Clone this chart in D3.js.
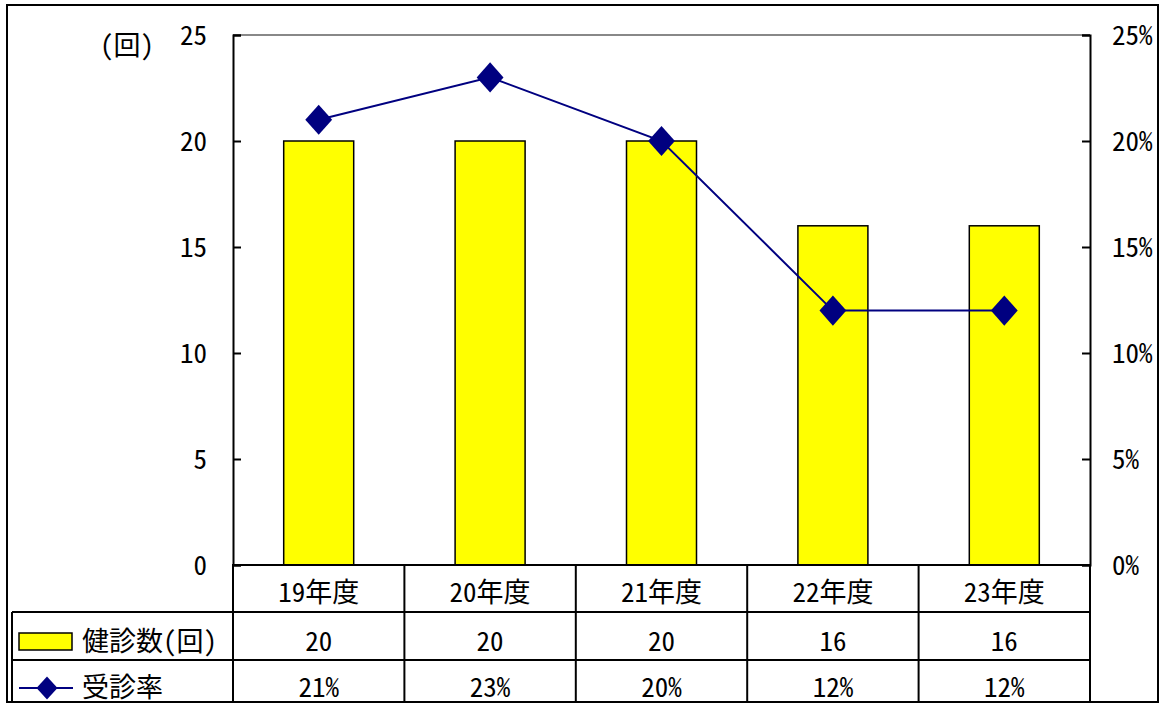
<!DOCTYPE html>
<html><head><meta charset="utf-8">
<script src="https://cdn.jsdelivr.net/npm/d3@7"></script>
<style>
html,body{margin:0;padding:0;background:#fff;}
text{font-family:"Noto Sans CJK JP","Noto Sans",sans-serif;fill:#000;font-size:27px;
  font-feature-settings:"hwid" 1;}
</style></head>
<body>
<svg id="chart" width="1166" height="704"></svg>
<script>
// data
const categories = ["19年度", "20年度", "21年度", "22年度", "23年度"];
const checkups = [20, 20, 20, 16, 16];        // 健診数(回)
const rates = [0.21, 0.23, 0.20, 0.12, 0.12]; // 受診率
const leftTicks = [0, 5, 10, 15, 20, 25];
const rightTicks = [0, 0.05, 0.10, 0.15, 0.20, 0.25];
const seriesNames = ["健診数(回)", "受診率"];
const unitLabel = "(回)";

const svg = d3.select("#chart");
const plot = {left: 233, right: 1090, top: 35, bottom: 565};
const tableLeft = 12, row1 = 612, row2 = 660, tableBottom = 701;
const pct = d3.format(".0%");

const x = d3.scaleBand().domain(categories).range([plot.left, plot.right]).paddingInner(0).paddingOuter(0);
const yL = d3.scaleLinear().domain([0, 25]).range([plot.bottom, plot.top]);
const yR = d3.scaleLinear().domain([0, 0.25]).range([plot.bottom, plot.top]);
const cx = d => x(d) + x.bandwidth() / 2;

// outer frame
svg.append("rect").attr("x", 7).attr("y", 5).attr("width", 1151).attr("height", 697)
  .attr("fill", "none").attr("stroke", "#000").attr("stroke-width", 2);

// top border of plot
svg.append("line").attr("x1", plot.left).attr("x2", plot.right).attr("y1", plot.top).attr("y2", plot.top)
  .attr("stroke", "#888").attr("stroke-width", 2);

// bars
const bw = 70;
svg.selectAll("rect.bar").data(categories).enter().append("rect")
  .attr("class", "bar")
  .attr("x", d => cx(d) - bw / 2)
  .attr("y", (d, i) => yL(checkups[i]))
  .attr("width", bw)
  .attr("height", (d, i) => yL(0) - yL(checkups[i]))
  .attr("fill", "#ffff00").attr("stroke", "#000").attr("stroke-width", 1.5);

// left axis (inward ticks)
const axL = svg.append("g").attr("transform", `translate(${plot.left},0)`)
  .call(d3.axisLeft(yL).tickValues(leftTicks).tickSize(-8).tickPadding(26).tickFormat(d3.format("d")));
axL.select(".domain").attr("stroke-width", 2);
axL.selectAll(".tick line").attr("stroke-width", 2);
axL.selectAll("text").attr("x", -26).attr("dy", "0.36em").style("font-size", "27px");

// right axis (inward ticks)
const axR = svg.append("g").attr("transform", `translate(${plot.right},0)`)
  .call(d3.axisRight(yR).tickValues(rightTicks).tickSize(-8).tickPadding(22).tickFormat(pct));
axR.select(".domain").attr("stroke-width", 2);
axR.selectAll(".tick line").attr("stroke-width", 2);
axR.selectAll("text").attr("x", 22).attr("dy", "0.36em").style("font-size", "27px");
svg.selectAll(".tick text").attr("font-family", null).attr("font-size", null);

// y axis unit
svg.append("text").attr("x", 127).attr("y", 55).attr("text-anchor", "middle").text(unitLabel);

// rate line
const line = d3.line().x((d, i) => cx(categories[i])).y(d => yR(d));
svg.append("path").datum(rates).attr("d", line)
  .attr("fill", "none").attr("stroke", "#000080").attr("stroke-width", 2);
svg.selectAll("path.mk").data(rates).enter().append("path")
  .attr("class", "mk")
  .attr("transform", (d, i) => `translate(${cx(categories[i])},${yR(d)}) scale(1,1.12) rotate(45)`)
  .attr("d", d3.symbol().type(d3.symbolSquare).size(360))
  .attr("fill", "#000080");

// data table grid
const tbl = svg.append("g").attr("stroke", "#000").attr("stroke-width", 2);
tbl.append("line").attr("x1", plot.left - 1).attr("x2", plot.right).attr("y1", plot.bottom).attr("y2", plot.bottom);
tbl.append("line").attr("x1", tableLeft).attr("x2", plot.right).attr("y1", row1).attr("y2", row1);
tbl.append("line").attr("x1", tableLeft).attr("x2", plot.right).attr("y1", row2).attr("y2", row2);
tbl.append("line").attr("x1", tableLeft).attr("x2", tableLeft).attr("y1", row1).attr("y2", tableBottom);
const bounds = categories.map(c => x(c)).concat([plot.right]);
tbl.selectAll("line.v").data(bounds).enter().append("line").attr("class", "v")
  .attr("x1", d => d).attr("x2", d => d).attr("y1", plot.bottom).attr("y2", tableBottom);

// table text
svg.selectAll("text.cat").data(categories).enter().append("text").attr("class", "cat")
  .attr("x", d => cx(d)).attr("y", 602).attr("text-anchor", "middle").text(d => d);
svg.selectAll("text.v1").data(checkups).enter().append("text").attr("class", "v1")
  .attr("x", (d, i) => cx(categories[i])).attr("y", 651).attr("text-anchor", "middle").text(d => d);
svg.selectAll("text.v2").data(rates).enter().append("text").attr("class", "v2")
  .attr("x", (d, i) => cx(categories[i])).attr("y", 697).attr("text-anchor", "middle").text(d => pct(d));

// legend keys
svg.append("rect").attr("x", 19).attr("y", 633).attr("width", 53).attr("height", 17)
  .attr("fill", "#ffff00").attr("stroke", "#000").attr("stroke-width", 1.5);
svg.append("text").attr("x", 82).attr("y", 651).text(seriesNames[0]);
svg.append("line").attr("x1", 19).attr("x2", 73).attr("y1", 688).attr("y2", 688)
  .attr("stroke", "#000080").attr("stroke-width", 2);
svg.append("path").attr("transform", "translate(47,688) scale(1,1.1) rotate(45)")
  .attr("d", d3.symbol().type(d3.symbolSquare).size(220)).attr("fill", "#000080");
svg.append("text").attr("x", 82).attr("y", 697).text(seriesNames[1]);
</script>
</body></html>
